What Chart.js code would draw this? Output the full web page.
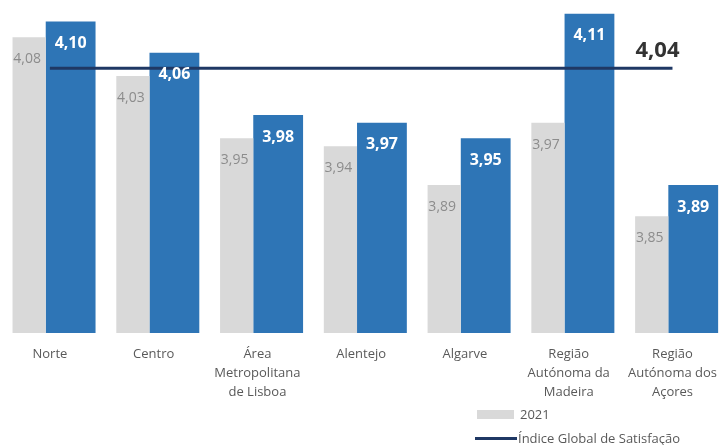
<!DOCTYPE html>
<html lang="pt">
<head>
<meta charset="utf-8">
<script src="https://cdn.jsdelivr.net/npm/chart.js@4.4.1/dist/chart.umd.min.js"></script>
<style>
  html, body { margin: 0; padding: 0; background: #fff; }
  #wrap { position: relative; width: 722px; height: 445px; overflow: hidden; font-family: 'Open Sans', sans-serif; }
  #chart { position: absolute; left: -2px; top: 0; }
  #legend { position: absolute; left: 475px; top: 402px; font-size: 13px; color: #595959; }
  .leg-row { display: flex; align-items: center; height: 24px; }
  .leg-box { width: 37px; height: 9px; background: #d9d9d9; margin: 0 6px 0 2px; }
  .leg-line { width: 42px; height: 3px; background: #1f3864; margin-right: 1px; }
</style>
</head>
<body>
<div id="wrap">
  <canvas id="chart" width="731" height="445"></canvas>
  <div id="legend">
    <div class="leg-row"><span class="leg-box"></span>2021</div>
    <div class="leg-row"><span class="leg-line"></span>Índice Global de Satisfação</div>
  </div>
</div>
<script>
const REGIONS = [
  'Norte',
  'Centro',
  ['Área', 'Metropolitana', 'de Lisboa'],
  'Alentejo',
  'Algarve',
  ['Região', 'Autónoma da', 'Madeira'],
  ['Região', 'Autónoma dos', 'Açores'],
];
const VALUES_2021 = [4.08, 4.03, 3.95, 3.94, 3.89, 3.97, 3.85];
const VALUES_2022 = [4.10, 4.06, 3.98, 3.97, 3.95, 4.11, 3.89];
const GLOBAL_INDEX = 4.04;

const GREY = '#d9d9d9';
const BLUE = '#2e75b6';
const NAVY = '#1f3864';

const fmt = v => v.toFixed(2).replace('.', ',');

// value labels inside the bars, plus the index value above the end of the line
const valueLabels = {
  id: 'valueLabels',
  afterDatasetsDraw(chart) {
    const ctx = chart.ctx;
    ctx.save();
    ctx.textAlign = 'center';
    ctx.textBaseline = 'middle';

    chart.getDatasetMeta(0).data.forEach((bar, i) => {
      ctx.font = '14px "Open Sans", sans-serif';
      ctx.fillStyle = '#8c8c8c';
      ctx.fillText(fmt(VALUES_2021[i]), bar.x - 2, bar.y + 22);
    });

    chart.getDatasetMeta(1).data.forEach((bar, i) => {
      ctx.font = 'bold 16px "Open Sans", sans-serif';
      ctx.fillStyle = '#ffffff';
      ctx.fillText(fmt(VALUES_2022[i]), bar.x, bar.y + 22);
    });

    const pts = chart.getDatasetMeta(2).data;
    const last = pts[pts.length - 1];
    ctx.font = 'bold 22px "Open Sans", sans-serif';
    ctx.fillStyle = '#333333';
    ctx.textAlign = 'right';
    ctx.fillText(fmt(GLOBAL_INDEX), last.x + 7, last.y - 18);
    ctx.restore();
  },
};

new Chart(document.getElementById('chart'), {
  type: 'bar',
  data: {
    labels: REGIONS,
    datasets: [
      {
        label: '2021',
        data: VALUES_2021,
        backgroundColor: GREY,
        barPercentage: 0.8,
        categoryPercentage: 0.8,
        order: 2,
      },
      {
        label: '2022',
        data: VALUES_2022,
        backgroundColor: BLUE,
        barPercentage: 1.2,
        categoryPercentage: 0.8,
        order: 2,
      },
      {
        type: 'line',
        label: 'Índice Global de Satisfação',
        data: REGIONS.map(() => GLOBAL_INDEX),
        borderColor: NAVY,
        borderWidth: 3,
        pointRadius: 0,
        fill: false,
        order: 1,
      },
    ],
  },
  options: {
    responsive: false,
    animation: false,
    layout: { padding: { top: 6, bottom: 42, left: 0, right: 0 } },
    plugins: {
      legend: { display: false },
      tooltip: { enabled: false },
    },
    scales: {
      x: {
        border: { display: false },
        grid: { display: false, drawTicks: false },
        ticks: {
          color: '#595959',
          font: { family: 'Open Sans', size: 13, lineHeight: 1.45 },
          padding: 12,
          maxRotation: 0,
          autoSkip: false,
        },
        afterFit: s => { s.height = 70; },
      },
      y: {
        display: false,
        min: 3.70,
        max: 4.12,
      },
    },
  },
  plugins: [valueLabels],
});
</script>
</body>
</html>
